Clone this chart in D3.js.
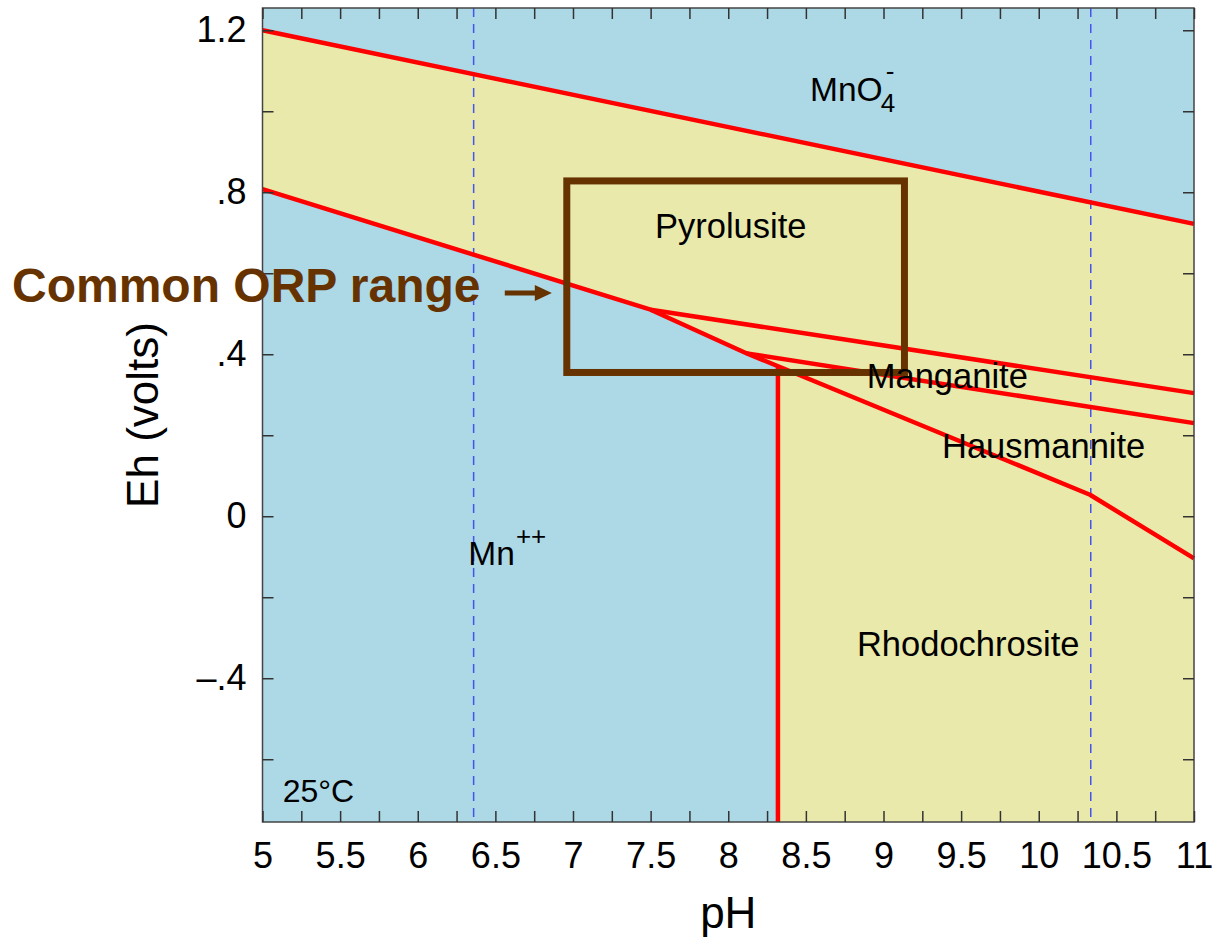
<!DOCTYPE html>
<html>
<head>
<meta charset="utf-8">
<script src="https://cdn.jsdelivr.net/npm/d3@7"></script>
<style>
  body { margin: 0; background: #fff; }
  text { font-family: Arial, "Liberation Sans", sans-serif; }
</style>
</head>
<body>
<div id="chart"></div>
<script>
// axis setup
var phDomain = [5, 11];
var ehDomain = [-0.755, 1.255];
var xTickValues = [5, 5.25, 5.5, 5.75, 6, 6.25, 6.5, 6.75, 7, 7.25, 7.5, 7.75, 8, 8.25, 8.5, 8.75, 9, 9.25, 9.5, 9.75, 10, 10.25, 10.5, 10.75, 11];
var xTickLabels = {5: "5", 5.5: "5.5", 6: "6", 6.5: "6.5", 7: "7", 7.5: "7.5", 8: "8", 8.5: "8.5", 9: "9", 9.5: "9.5", 10: "10", 10.5: "10.5", 11: "11"};
var yTickValues = [-0.6, -0.4, -0.2, 0, 0.2, 0.4, 0.6, 0.8, 1.0, 1.2];
var yTickLabels = {"-0.4": "\u2013.4", "0": "0", "0.4": ".4", "0.8": ".8", "1.2": "1.2"};

// stability field boundaries [pH, Eh]
var permanganateLine = [[5, 1.2], [11, 0.722]];
var mnLowerLine = [[5, 0.808], [7.5, 0.51], [8.12, 0.402], [10.33, 0.053], [11, -0.104]];
var pyroManganiteLine = [[7.5, 0.51], [11, 0.304]];
var manganiteHausLine = [[8.12, 0.402], [11, 0.23]];
var rhodoLine = [[8.32, 0.368], [8.32, -0.755]];

// aqueous fields
var permanganateField = [[5, 1.2], [11, 0.722], [11, 1.255], [5, 1.255]];
var mnField = [[5, 0.808], [7.5, 0.51], [8.12, 0.402], [8.32, 0.368], [8.32, -0.755], [5, -0.755]];

// dashed reference lines
var dashedPH = [6.36, 10.335];

// common ORP box
var orpPH = [6.96, 9.135];
var orpEh = [0.355, 0.828];

// field labels [name, pH, Eh]
var fieldLabels = [
  ["Pyrolusite", 7.528, 0.688],
  ["Manganite", 8.892, 0.317],
  ["Hausmannite", 9.377, 0.144],
  ["Rhodochrosite", 8.829, -0.345]
];

var width = 1214, height = 945;
var plot = {left: 262.5, right: 1194, top: 8, bottom: 822};

var svg = d3.select("#chart").append("svg")
  .attr("width", width)
  .attr("height", height);

var xScale = d3.scaleLinear().domain(phDomain).range([plot.left, plot.right]);
var yScale = d3.scaleLinear().domain(ehDomain).range([plot.bottom, plot.top]);

var line = d3.line().x(d => xScale(d[0])).y(d => yScale(d[1]));

// background (solid phases)
svg.append("rect")
  .attr("x", plot.left).attr("y", plot.top)
  .attr("width", plot.right - plot.left).attr("height", plot.bottom - plot.top)
  .attr("fill", "#e9e9ab");

// aqueous fields
svg.selectAll(".aq")
  .data([permanganateField, mnField])
  .enter()
  .append("path")
  .attr("d", d => line(d) + "Z")
  .attr("fill", "#add8e6");

// dashed lines
svg.selectAll(".dash")
  .data(dashedPH)
  .enter()
  .append("line")
  .attr("x1", d => xScale(d)).attr("x2", d => xScale(d))
  .attr("y1", plot.top).attr("y2", plot.bottom)
  .attr("stroke", "#4455ee")
  .attr("stroke-width", 1.5)
  .attr("stroke-dasharray", "9,7");

// boundaries
svg.selectAll(".bound")
  .data([permanganateLine, mnLowerLine, pyroManganiteLine, manganiteHausLine, rhodoLine])
  .enter()
  .append("path")
  .attr("d", d => line(d))
  .attr("fill", "none")
  .attr("stroke", "#ff0000")
  .attr("stroke-width", 4.5)
  .attr("stroke-linejoin", "round");

// ORP box
svg.append("rect")
  .attr("x", xScale(orpPH[0]))
  .attr("y", yScale(orpEh[1]))
  .attr("width", xScale(orpPH[1]) - xScale(orpPH[0]))
  .attr("height", yScale(orpEh[0]) - yScale(orpEh[1]))
  .attr("fill", "none")
  .attr("stroke", "#663300")
  .attr("stroke-width", 7);

// field labels
svg.selectAll(".flabel")
  .data(fieldLabels)
  .enter()
  .append("text")
  .attr("x", d => xScale(d[1]))
  .attr("y", d => yScale(d[2]))
  .attr("font-size", 34.5)
  .attr("fill", "#000")
  .text(d => d[0]);

// MnO4- label
var mno = svg.append("text")
  .attr("x", xScale(8.527)).attr("y", yScale(1.026))
  .attr("font-size", 33.5)
  .text("MnO");
var mnoEnd = xScale(8.527) + mno.node().getComputedTextLength();
svg.append("text")
  .attr("x", mnoEnd - 2).attr("y", yScale(1.026) + 11)
  .attr("font-size", 26)
  .text("4");
svg.append("text")
  .attr("x", mnoEnd + 3).attr("y", yScale(1.026) - 21)
  .attr("font-size", 26)
  .text("-");

// Mn++ label
var mn = svg.append("text")
  .attr("x", xScale(6.326)).attr("y", yScale(-0.12))
  .attr("font-size", 33.5)
  .text("Mn");
svg.append("text")
  .attr("x", xScale(6.326) + mn.node().getComputedTextLength() + 1)
  .attr("y", yScale(-0.12) - 20)
  .attr("font-size", 26)
  .text("++");

// temperature
svg.append("text")
  .attr("x", xScale(5.13)).attr("y", yScale(-0.706))
  .attr("font-size", 32)
  .text("25\u00b0C");

// frame
svg.append("rect")
  .attr("x", plot.left).attr("y", plot.top)
  .attr("width", plot.right - plot.left).attr("height", plot.bottom - plot.top)
  .attr("fill", "none")
  .attr("stroke", "#444")
  .attr("stroke-width", 1.5);

// axes
var xAxis = d3.axisBottom(xScale)
  .tickValues(xTickValues)
  .tickFormat(d => xTickLabels[d] || "")
  .tickSize(-11)
  .tickPadding(20);
var xAxisTop = d3.axisTop(xScale)
  .tickValues(xTickValues)
  .tickFormat("")
  .tickSize(-11);
var yAxis = d3.axisLeft(yScale)
  .tickValues(yTickValues)
  .tickFormat(d => yTickLabels[String(+d.toFixed(1))] || "")
  .tickSize(-11)
  .tickPadding(16);
var yAxisRight = d3.axisRight(yScale)
  .tickValues(yTickValues)
  .tickFormat("")
  .tickSize(-11);

function styleAxis(g) {
  g.select(".domain").remove();
  g.selectAll(".tick line").attr("stroke", "#333").attr("stroke-width", 1.5);
  g.selectAll(".tick text")
    .attr("font-size", 36)
    .attr("fill", "#000")
    .attr("font-family", "Arial, 'Liberation Sans', sans-serif");
}

svg.append("g").attr("transform", `translate(0, ${plot.bottom})`).call(xAxis).call(styleAxis);
svg.append("g").attr("transform", `translate(0, ${plot.top})`).call(xAxisTop).call(styleAxis);
svg.append("g").attr("transform", `translate(${plot.left}, 0)`).call(yAxis).call(styleAxis);
svg.append("g").attr("transform", `translate(${plot.right}, 0)`).call(yAxisRight).call(styleAxis);

// axis titles
svg.append("text")
  .attr("x", (plot.left + plot.right) / 2)
  .attr("y", 928)
  .attr("text-anchor", "middle")
  .attr("font-size", 44)
  .text("pH");

svg.append("text")
  .attr("transform", `translate(158, ${yScale(0.25)}) rotate(-90)`)
  .attr("text-anchor", "middle")
  .attr("font-size", 44)
  .text("Eh (volts)");

// ORP callout
svg.append("text")
  .attr("x", 12)
  .attr("y", 302)
  .attr("font-size", 48)
  .attr("font-weight", "bold")
  .attr("fill", "#663300")
  .text("Common ORP range");

var arrowY = yScale(0.551);
var arrowTip = xScale(orpPH[0]) - 15;
svg.append("line")
  .attr("x1", arrowTip - 47).attr("x2", arrowTip - 12)
  .attr("y1", arrowY).attr("y2", arrowY)
  .attr("stroke", "#663300")
  .attr("stroke-width", 5);
svg.append("path")
  .attr("d", `M${arrowTip},${arrowY} L${arrowTip - 17},${arrowY - 8} L${arrowTip - 17},${arrowY + 8} Z`)
  .attr("fill", "#663300");
</script>
</body>
</html>
